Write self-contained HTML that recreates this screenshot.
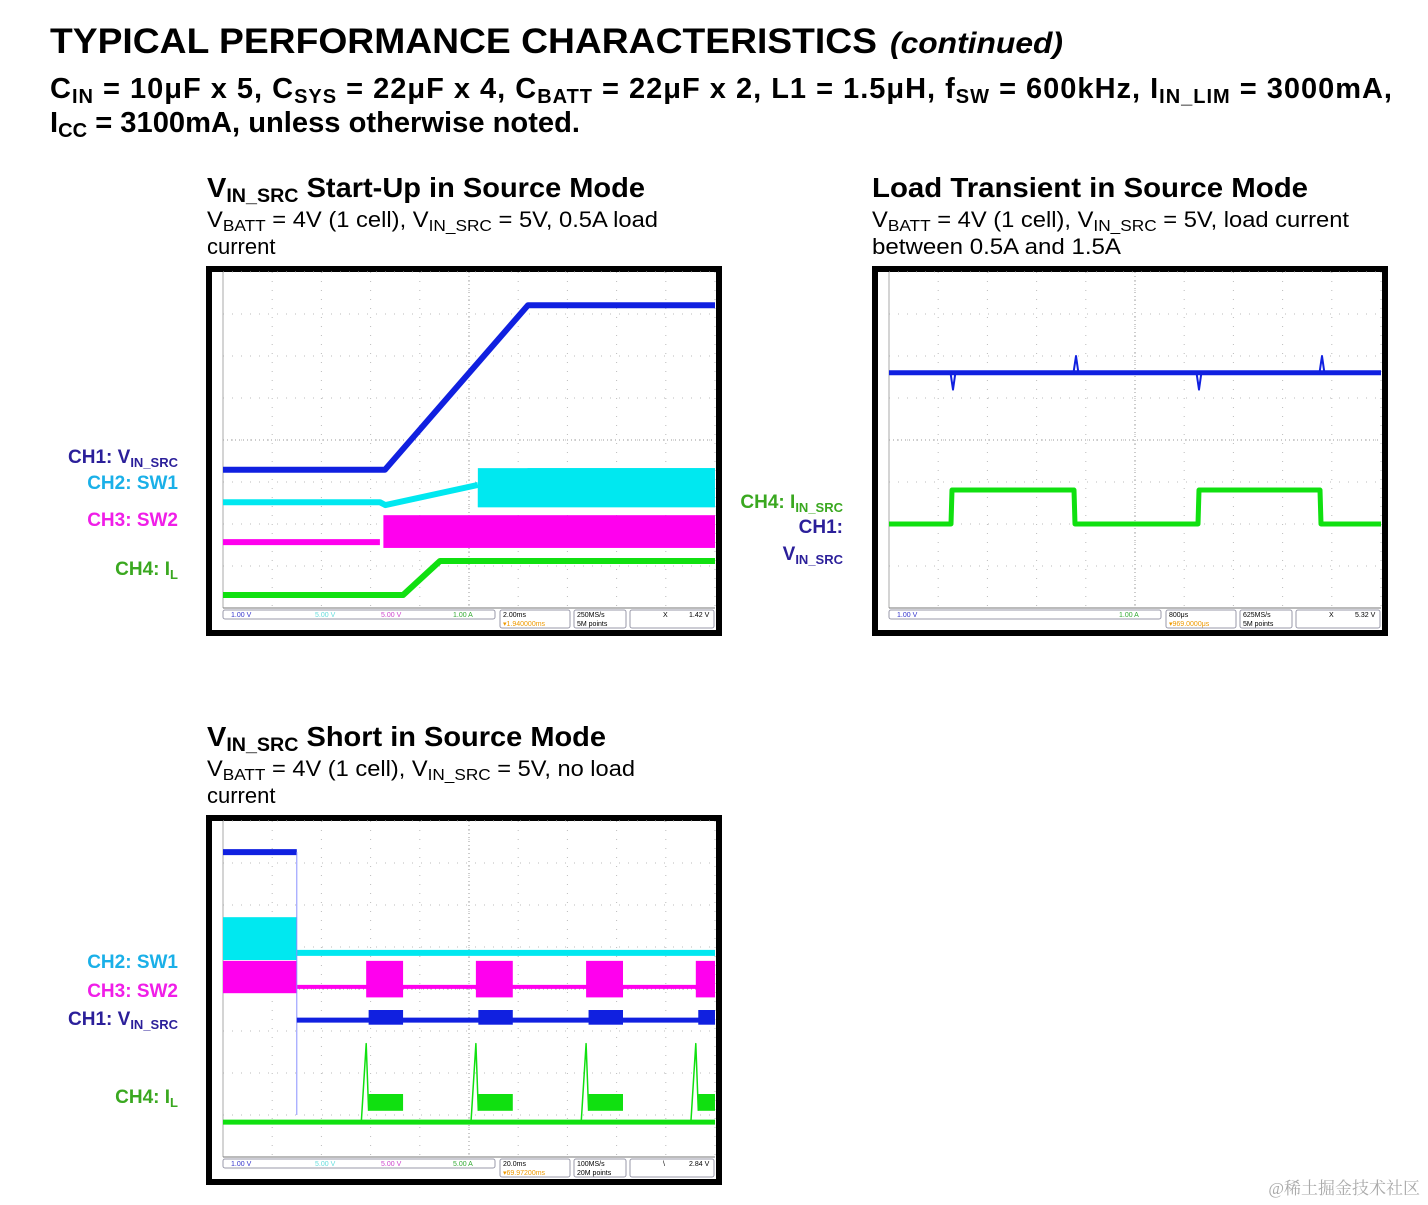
<!DOCTYPE html>
<html><head><meta charset="utf-8"><style>
html,body{margin:0;padding:0;background:#fff;}
svg{display:block;font-family:"Liberation Sans",Arial,sans-serif;}
tspan.s{baseline-shift:-5px;}
tspan.t{baseline-shift:-4px;}
</style></head><body>
<svg id="page" width="1428" height="1205" viewBox="0 0 1428 1205" xmlns="http://www.w3.org/2000/svg">
<g>
<text x="50" y="53" font-size="35" font-weight="bold" textLength="827" lengthAdjust="spacingAndGlyphs">TYPICAL PERFORMANCE CHARACTERISTICS</text>
<text x="890" y="53" font-size="30" font-weight="bold" font-style="italic" textLength="173" lengthAdjust="spacingAndGlyphs">(continued)</text>
<text x="50" y="98" font-size="29" font-weight="bold" textLength="1342" lengthAdjust="spacing">C<tspan class="s" font-size="20">IN</tspan> = 10μF x 5, C<tspan class="s" font-size="20">SYS</tspan> = 22μF x 4, C<tspan class="s" font-size="20">BATT</tspan> = 22μF x 2, L1 = 1.5μH, f<tspan class="s" font-size="20">SW</tspan> = 600kHz, I<tspan class="s" font-size="20">IN_LIM</tspan> = 3000mA,</text>
<text x="50" y="132" font-size="29" font-weight="bold" textLength="530" lengthAdjust="spacingAndGlyphs">I<tspan class="s" font-size="20">CC</tspan> = 3100mA, unless otherwise noted.</text>
</g>
<g>
<text x="207" y="197" font-size="28" font-weight="bold" textLength="438" lengthAdjust="spacingAndGlyphs">V<tspan class="s" font-size="19">IN_SRC</tspan> Start-Up in Source Mode</text>
<text x="207" y="227" font-size="22" textLength="451" lengthAdjust="spacingAndGlyphs">V<tspan class="t" font-size="16">BATT</tspan> = 4V (1 cell), V<tspan class="t" font-size="16">IN_SRC</tspan> = 5V, 0.5A load</text>
<text x="207" y="254" font-size="22">current</text>
<text x="872" y="197" font-size="28" font-weight="bold" textLength="436" lengthAdjust="spacingAndGlyphs">Load Transient in Source Mode</text>
<text x="872" y="227" font-size="22" textLength="477" lengthAdjust="spacingAndGlyphs">V<tspan class="t" font-size="16">BATT</tspan> = 4V (1 cell), V<tspan class="t" font-size="16">IN_SRC</tspan> = 5V, load current</text>
<text x="872" y="254" font-size="22" textLength="249" lengthAdjust="spacingAndGlyphs">between 0.5A and 1.5A</text>
<text x="207" y="746" font-size="28" font-weight="bold" textLength="399" lengthAdjust="spacingAndGlyphs">V<tspan class="s" font-size="19">IN_SRC</tspan> Short in Source Mode</text>
<text x="207" y="776" font-size="22" textLength="428" lengthAdjust="spacingAndGlyphs">V<tspan class="t" font-size="16">BATT</tspan> = 4V (1 cell), V<tspan class="t" font-size="16">IN_SRC</tspan> = 5V, no load</text>
<text x="207" y="803" font-size="22">current</text>
</g>
<g font-size="19" font-weight="bold" text-anchor="end">
<text x="178" y="463" fill="#2b1f9a">CH1: V<tspan class="t" font-size="13">IN_SRC</tspan></text>
<text x="178" y="489" fill="#1ab0e8">CH2: SW1</text>
<text x="178" y="526" fill="#f01ee8">CH3: SW2</text>
<text x="178" y="575" fill="#3aa820">CH4: I<tspan class="t" font-size="13">L</tspan></text>
<text x="843" y="508" fill="#3aa820">CH4: I<tspan class="t" font-size="13">IN_SRC</tspan></text>
<text x="843" y="533" fill="#2b1f9a">CH1:</text>
<text x="843" y="560" fill="#2b1f9a">V<tspan class="t" font-size="13">IN_SRC</tspan></text>
<text x="178" y="968" fill="#1ab0e8">CH2: SW1</text>
<text x="178" y="997" fill="#f01ee8">CH3: SW2</text>
<text x="178" y="1025" fill="#2b1f9a">CH1: V<tspan class="t" font-size="13">IN_SRC</tspan></text>
<text x="178" y="1103" fill="#3aa820">CH4: I<tspan class="t" font-size="13">L</tspan></text>
</g>
<g id="scopes"></g>
<text x="1420" y="1194" text-anchor="end" font-size="17" fill="#aaa" font-family="'Liberation Serif','Noto Serif CJK SC',serif">@稀土掘金技术社区</text>
</svg>
<script>
// ---- data (time in divisions 0..10, level in divisions 0..8 from top) ----
// Scope 1: start-up
const s1Ch1T = [0, 3.29, 6.2, 10];
const s1Ch1V = [4.71, 4.71, 0.79, 0.79];
const s1Ch2T = [0, 3.19, 3.3, 5.18];
const s1Ch2V = [5.48, 5.48, 5.55, 5.07];
const s1Ch2BandT = [5.18, 6.2, 10];
const s1Ch2BandTop = [5.07, 4.67, 4.67];
const s1Ch2BandBot = [5.6, 5.6, 5.6];
const s1Ch3T = [0, 3.19];
const s1Ch3V = [6.43, 6.43];
const s1Ch3BandStart = [3.26];
const s1Ch3BandEnd = [10];
const s1Ch3BandTop = 5.79, s1Ch3BandBot = 6.57;
const s1Ch4T = [0, 3.66, 4.41, 10];
const s1Ch4V = [7.69, 7.69, 6.88, 6.88];
// Scope 2: load transient
const s2Ch1T = [0, 10];
const s2Ch1V = [2.4, 2.4];
const s2Ch1Spikes = [1.3, 3.8, 6.3, 8.8];
const s2Ch4High = [[1.26, 3.76], [6.28, 8.76]];
const s2Ch4Low = 6.0, s2Ch4HighV = 5.19;
// Scope 3: short
const s3Ch1HighEnd = 1.5, s3Ch1High = 0.74, s3Ch1Low = 4.74;
const s3BurstStart = [2.91, 5.14, 7.38, 9.61];
const s3BurstWidth = 0.75;
const s3Ch2BandTop = 2.29, s3Ch2BandBot = 3.31, s3Ch2Line = 3.14;
const s3Ch3BandTop = 3.33, s3Ch3BandBot = 4.1, s3Ch3Line = 3.95;
const s3Ch1BurstTop = 4.5, s3Ch1BurstBot = 4.85;
const s3Ch4Line = 7.17, s3Ch4BurstTop = 6.5, s3Ch4BurstBot = 6.9, s3Ch4Spike = 5.3;

const NS = "http://www.w3.org/2000/svg";
const root = document.getElementById('scopes');
const BLUE = "#1020e0", CYAN = "#00e8f0", MAG = "#ff00ee", GRN = "#10e010";

function mk(tag, attrs, parent) {
  const e = document.createElementNS(NS, tag);
  for (const k in attrs) e.setAttribute(k, attrs[k]);
  parent.appendChild(e);
  return e;
}

function makeScope(ox, oy, name, status) {
  const g = mk('g', {}, root);
  
  
  const border = mk('rect', {x: ox + 3, y: oy + 3, width: 510, height: 364, fill: '#fff', stroke: '#000', 'stroke-width': 6}, g);
  
  
  const x0 = ox + 17, y0 = oy + 6, W = 492, H = 336;
  const xS = t => x0 + t * W / 10;
  const yS = v => y0 + v * H / 8;
  const grid = mk('g', {stroke: '#bbb', 'stroke-width': 1, 'stroke-dasharray': '1 8'}, g);
  
  
  for (let i = 0; i <= 10; i++) mk('line', {x1: xS(i), x2: xS(i), y1: y0, y2: y0 + H}, grid);
  for (let j = 0; j <= 8; j++) mk('line', {x1: x0, x2: x0 + W, y1: yS(j), y2: yS(j)}, grid);
  mk('line', {x1: xS(5), x2: xS(5), y1: y0, y2: y0 + H, stroke: '#999', 'stroke-dasharray': '1 3'}, g);
  mk('line', {x1: x0, x2: x0 + W, y1: yS(4), y2: yS(4), stroke: '#999', 'stroke-dasharray': '1 3'}, g);
  mk('line', {x1: x0, x2: x0, y1: y0, y2: y0 + H, stroke: '#aaa'}, g);
  mk('line', {x1: x0, x2: x0 + W, y1: y0 + H, y2: y0 + H, stroke: '#777'}, g);
  // status bar
  const sb = mk('g', {'font-size': 7}, g);
  
  
  const by = y0 + H + 2;
  mk('rect', {x: x0, y: by, width: 272, height: 9, fill: 'none', stroke: '#99a', rx: 2}, sb);
  mk('rect', {x: x0 + 277, y: by, width: 70, height: 18, fill: 'none', stroke: '#99a', rx: 2}, sb);
  mk('rect', {x: x0 + 351, y: by, width: 52, height: 18, fill: 'none', stroke: '#99a', rx: 2}, sb);
  mk('rect', {x: x0 + 407, y: by, width: 84, height: 18, fill: 'none', stroke: '#99a', rx: 2}, sb);
  status.forEach(s => {
    const t = mk('text', {x: x0 + s[0], y: by + s[1], fill: s[2]}, sb);
    t.textContent = s[3];
  });
  return {g, xS, yS};
}

function poly(S, ts, vs, color, w, name) {
  const pts = ts.map((t, i) => S.xS(t).toFixed(1) + ',' + S.yS(vs[i]).toFixed(1)).join(' ');
  const p = mk('polyline', {points: pts, fill: 'none', stroke: color, 'stroke-width': w, 'stroke-linejoin': 'round'}, S.g);
  
  
  return p;
}
function band(S, t1, t2, top, bot, color, name) {
  const r = mk('rect', {x: S.xS(t1), y: S.yS(top), width: S.xS(t2) - S.xS(t1), height: S.yS(bot) - S.yS(top), fill: color}, S.g);
  
  
  return r;
}

// ---- Scope 1 ----
const sc1 = makeScope(206, 266, 'startup-scope', [
  [8, 7, '#33c', '1.00 V'], [92, 7, '#6dd', '5.00 V'], [158, 7, '#c4c', '5.00 V'], [230, 7, '#3a3', '1.00 A'],
  [280, 7, '#000', '2.00ms'], [280, 16, '#e90', '▾1.940000ms'], [354, 7, '#000', '250MS/s'], [354, 16, '#000', '5M points'],
  [440, 7, '#000', 'X'], [466, 7, '#000', '1.42 V']]);
poly(sc1, s1Ch1T, s1Ch1V, BLUE, 6, 'ch1-vin-src-trace');
band(sc1, s1Ch2BandT[0], s1Ch2BandT[2], s1Ch2BandTop[1], s1Ch2BandBot[0], CYAN, 'ch2-sw1-switching');
(function () {
  const pts = s1Ch2BandT.map((t, i) => sc1.xS(t) + ',' + sc1.yS(s1Ch2BandTop[i])).join(' ') +
    ' ' + sc1.xS(10) + ',' + sc1.yS(s1Ch2BandBot[2]) + ' ' + sc1.xS(s1Ch2BandT[0]) + ',' + sc1.yS(s1Ch2BandBot[0]);
  const p = mk('polygon', {points: pts, fill: CYAN}, sc1.g);
  
  
})();
poly(sc1, s1Ch2T, s1Ch2V, CYAN, 6, 'ch2-sw1-trace');
poly(sc1, s1Ch3T, s1Ch3V, MAG, 6, 'ch3-sw2-trace');
s1Ch3BandStart.forEach((t, i) => band(sc1, t, s1Ch3BandEnd[i], s1Ch3BandTop, s1Ch3BandBot, MAG, 'ch3-sw2-switching'));
poly(sc1, s1Ch4T, s1Ch4V, GRN, 6, 'ch4-il-trace');

// ---- Scope 2 ----
const sc2 = makeScope(872, 266, 'transient-scope', [
  [8, 7, '#33c', '1.00 V'], [230, 7, '#3a3', '1.00 A'],
  [280, 7, '#000', '800μs'], [280, 16, '#e90', '▾969.0000μs'], [354, 7, '#000', '625MS/s'], [354, 16, '#000', '5M points'],
  [440, 7, '#000', 'X'], [466, 7, '#000', '5.32 V']]);
poly(sc2, s2Ch1T, s2Ch1V, BLUE, 5, 'ch1-vin-src-trace');
s2Ch1Spikes.forEach((t, i) => {
  poly(sc2, [t - 0.05, t, t + 0.05], [s2Ch1V[0], s2Ch1V[0] + (i % 2 ? -0.4 : 0.4), s2Ch1V[0]], BLUE, 2, 'ch1-spike');
});
(function () {
  const ts = [0], vs = [s2Ch4Low];
  s2Ch4High.forEach(h => { ts.push(h[0], h[0] + 0.02, h[1], h[1] + 0.02); vs.push(s2Ch4Low, s2Ch4HighV, s2Ch4HighV, s2Ch4Low); });
  ts.push(10); vs.push(s2Ch4Low);
  poly(sc2, ts, vs, GRN, 5, 'ch4-iin-src-trace');
})();

// ---- Scope 3 ----
const sc3 = makeScope(206, 815, 'short-scope', [
  [8, 7, '#33c', '1.00 V'], [92, 7, '#6dd', '5.00 V'], [158, 7, '#c4c', '5.00 V'], [230, 7, '#3a3', '5.00 A'],
  [280, 7, '#000', '20.0ms'], [280, 16, '#e90', '▾69.97200ms'], [354, 7, '#000', '100MS/s'], [354, 16, '#000', '20M points'],
  [440, 7, '#000', '\\'], [466, 7, '#000', '2.84 V']]);
band(sc3, 0, s3Ch1HighEnd, s3Ch2BandTop, s3Ch2BandBot, CYAN, 'ch2-sw1-switching');
poly(sc3, [s3Ch1HighEnd, 10], [s3Ch2Line, s3Ch2Line], CYAN, 6, 'ch2-sw1-trace');
band(sc3, 0, s3Ch1HighEnd, s3Ch3BandTop, s3Ch3BandBot, MAG, 'ch3-sw2-switching');
poly(sc3, [s3Ch1HighEnd, 10], [s3Ch3Line, s3Ch3Line], MAG, 4, 'ch3-sw2-trace');
poly(sc3, [0, s3Ch1HighEnd], [s3Ch1High, s3Ch1High], BLUE, 6, 'ch1-vin-src-high');
poly(sc3, [s3Ch1HighEnd, s3Ch1HighEnd], [s3Ch1High, 7.0], '#8890ff', 1, 'ch1-drop');
poly(sc3, [s3Ch1HighEnd, 10], [s3Ch1Low, s3Ch1Low], BLUE, 5, 'ch1-vin-src-trace');
poly(sc3, [0, 10], [s3Ch4Line, s3Ch4Line], GRN, 5, 'ch4-il-trace');
s3BurstStart.forEach(t => {
  const e = Math.min(t + s3BurstWidth, 10);
  band(sc3, t, e, s3Ch3BandTop, s3Ch3BandBot + 0.1, MAG, 'ch3-burst');
  band(sc3, t + 0.05, e, s3Ch1BurstTop, s3Ch1BurstBot, BLUE, 'ch1-burst');
  band(sc3, t + 0.05, e, s3Ch4BurstTop, s3Ch4BurstBot, GRN, 'ch4-burst');
  poly(sc3, [t - 0.1, t, t + 0.05], [s3Ch4Line, s3Ch4Spike, s3Ch4BurstBot], GRN, 1.5, 'ch4-spike');
});
</script>
</body></html>
